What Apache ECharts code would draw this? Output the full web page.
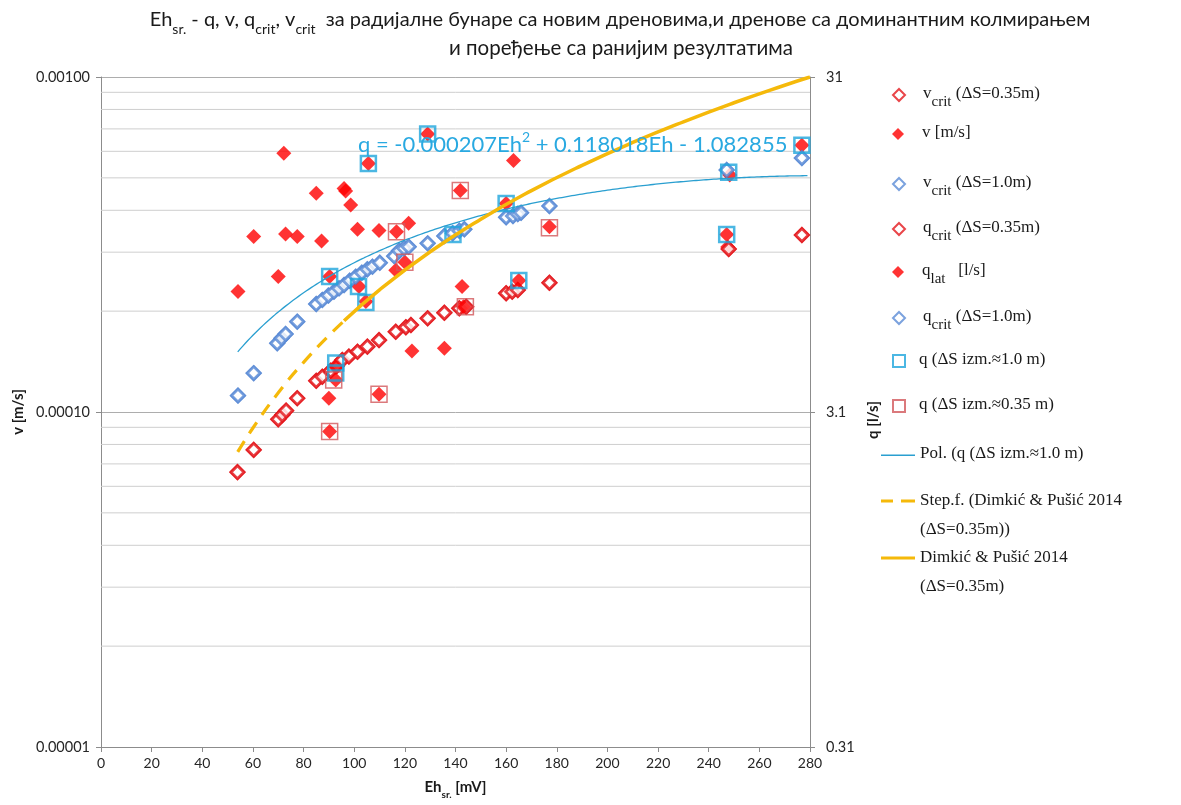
<!DOCTYPE html>
<html>
<head>
<meta charset="utf-8">
<script src="https://cdn.jsdelivr.net/npm/echarts@6/dist/echarts.min.js"></script>
<style>
  html, body { margin: 0; padding: 0; background: #fff; }
  #chart { width: 1181px; height: 805px; }
</style>
</head>
<body>
<div id="chart"></div>
<script>
// ---- Eh (mV) vs. velocities (m/s, left axis) and discharges (l/s, right axis) ----

// critical velocity / discharge for ΔS = 0.35 m
const ehCrit035 = [53.9, 60.3, 70.0, 71.6, 73.1, 77.5, 85.0, 87.4, 90.7, 93.1, 95.3, 97.9, 101.3, 105.2, 109.8, 116.4, 120.4, 122.4, 129.0, 135.6, 141.5, 144.2, 160.0, 162.4, 164.6, 177.1, 247.9, 276.8];
const vCrit035 = [6.62e-5, 7.70e-5, 9.51e-5, 9.80e-5, 1.009e-4, 1.099e-4, 1.240e-4, 1.275e-4, 1.328e-4, 1.372e-4, 1.430e-4, 1.463e-4, 1.514e-4, 1.567e-4, 1.640e-4, 1.737e-4, 1.790e-4, 1.818e-4, 1.904e-4, 1.979e-4, 2.040e-4, 2.062e-4, 2.261e-4, 2.286e-4, 2.313e-4, 2.432e-4, 3.066e-4, 3.376e-4];
const qCrit035 = [2.05, 2.39, 2.95, 3.04, 3.13, 3.41, 3.84, 3.95, 4.12, 4.25, 4.43, 4.54, 4.69, 4.86, 5.08, 5.38, 5.55, 5.64, 5.90, 6.13, 6.32, 6.39, 7.01, 7.09, 7.17, 7.54, 9.50, 10.47];

// critical velocity / discharge for ΔS = 1.0 m
const ehCrit10 = [54.1, 60.3, 69.6, 71.3, 72.9, 77.5, 85.0, 87.4, 89.8, 92.0, 94.0, 96.0, 98.2, 100.6, 103.0, 105.2, 107.2, 110.1, 115.8, 117.7, 119.7, 121.5, 129.0, 135.6, 138.9, 141.5, 143.5, 160.0, 162.7, 164.6, 165.9, 177.1, 247.1, 276.8];
const vCrit10 = [1.119e-4, 1.305e-4, 1.603e-4, 1.660e-4, 1.710e-4, 1.860e-4, 2.100e-4, 2.160e-4, 2.225e-4, 2.286e-4, 2.340e-4, 2.393e-4, 2.466e-4, 2.534e-4, 2.604e-4, 2.667e-4, 2.715e-4, 2.790e-4, 2.920e-4, 3.030e-4, 3.080e-4, 3.113e-4, 3.187e-4, 3.352e-4, 3.415e-4, 3.477e-4, 3.510e-4, 3.813e-4, 3.847e-4, 3.900e-4, 3.935e-4, 4.120e-4, 5.277e-4, 5.730e-4];
const qCrit10 = [3.47, 4.05, 4.97, 5.15, 5.30, 5.77, 6.51, 6.70, 6.90, 7.09, 7.25, 7.42, 7.64, 7.86, 8.07, 8.27, 8.42, 8.65, 9.05, 9.39, 9.55, 9.65, 9.88, 10.39, 10.59, 10.78, 10.88, 11.82, 11.93, 12.09, 12.20, 12.77, 16.36, 17.76];

// measured velocity v [m/s]
const ehV = [54.1, 60.3, 70.0, 72.2, 72.9, 77.5, 85.0, 87.1, 90.0, 96.0, 96.6, 98.6, 101.3, 109.8, 116.4, 121.5, 122.8, 135.6, 142.6, 162.9, 247.5];
const vMeas = [2.29e-4, 3.34e-4, 2.54e-4, 5.92e-4, 3.40e-4, 3.34e-4, 4.50e-4, 3.24e-4, 1.10e-4, 4.65e-4, 4.57e-4, 4.15e-4, 3.51e-4, 3.48e-4, 2.65e-4, 3.66e-4, 1.52e-4, 1.55e-4, 2.37e-4, 5.63e-4, 3.11e-4];

// lateral discharge q_lat [l/s]
const ehQLat = [90.3, 90.3, 92.7, 92.7, 101.9, 104.6, 105.6, 109.8, 116.7, 120.0, 129.0, 141.9, 143.1, 160.0, 165.0, 177.1, 247.1, 248.3, 276.8];
const qLat = [7.87, 2.71, 4.22, 3.86, 7.35, 6.63, 17.1, 3.50, 10.7, 8.68, 20.96, 14.2, 6.39, 13.0, 7.66, 11.07, 10.5, 15.8, 19.4];

// measured q for ΔS ≈ 1.0 m
const ehQ10 = [90.3, 92.7, 92.7, 101.7, 104.6, 105.6, 129.0, 139.0, 160.0, 165.0, 247.1, 247.9, 276.8];
const q10 = [7.87, 4.34, 4.05, 7.35, 6.58, 17.1, 20.96, 10.5, 13.0, 7.66, 10.5, 16.1, 19.4];

// measured q for ΔS ≈ 0.35 m
const ehQ035 = [90.3, 91.9, 109.8, 116.7, 120.0, 141.9, 143.9, 177.1];
const q035 = [2.71, 3.86, 3.50, 10.7, 8.68, 14.2, 6.39, 11.0];

// polynomial trend of q (ΔS ≈ 1.0 m): q = a·Eh² + b·Eh + c
const polyCoef = [-0.000207, 0.118018, -1.082855];
const polyRange = [54, 279];

// Dimkić & Pušić 2014 (ΔS = 0.35 m): power trend segment and curve
const ehDpStep = [54, 60, 70, 80, 90, 96];
const vDpStep = [7.6e-5, 8.96e-5, 1.141e-4, 1.407e-4, 1.691e-4, 1.871e-4];
const ehDp = [96, 110, 130, 150, 170, 190, 210, 230, 250, 270, 280];
const vDp = [1.871e-4, 2.316e-4, 3.008e-4, 3.764e-4, 4.579e-4, 5.450e-4, 6.376e-4, 7.351e-4, 8.377e-4, 9.45e-4, 1.0e-3];

// log gridlines between the decades
const minorGrid = [2e-5, 3e-5, 4e-5, 5e-5, 6e-5, 7e-5, 8e-5, 9e-5, 2e-4, 3e-4, 4e-4, 5e-4, 6e-4, 7e-4, 8e-4, 9e-4];

// axis ranges and tick labels
const xTicks = { min: 0, max: 280, interval: 20 };
const vAxis = { min: 1e-5, max: 1e-3 };
const qAxis = { min: 0.31, max: 31 };
const qTickLabels = [0.31, 3.1, 31];

const zip = (xs, ys) => xs.map((x, i) => [x, ys[i]]);

const trendPts = [];
for (let eh = polyRange[0]; eh <= polyRange[1]; eh += 1) {
  trendPts.push([eh, polyCoef[0] * eh * eh + polyCoef[1] * eh + polyCoef[2]]);
}

// each gridline as its own segment across the x range, separated by gaps
const gridPts = [];
minorGrid.forEach(v => {
  gridPts.push([xTicks.min, v], [xTicks.max, v], '-');
});

const RED = '#ff0000';
const RED_EDGE = '#e3161c';
const BLUE = '#5a8bd6';
const CYAN = '#1ea5dc';
const TREND = '#2a9fd0';
const SQ_RED = '#d2585b';
const GOLD = '#f5b90a';
const CALIBRI = 'Lato, "Liberation Sans", sans-serif';
const SERIF = '"Liberation Serif", "DejaVu Serif", serif';

const legendRich = {
  b: { fontFamily: SERIF, fontSize: 17, lineHeight: 20, verticalAlign: 'top', color: '#1a1a1a' },
  s: { fontFamily: SERIF, fontSize: 15, lineHeight: 14, padding: [10, 0, 0, 0], verticalAlign: 'top', color: '#1a1a1a' },
  m: { fontFamily: SERIF, fontSize: 17, lineHeight: 29, color: '#1a1a1a' }
};

const names = {
  vc035: 'v crit (ΔS=0.35m)',
  v: 'v [m/s]',
  vc10: 'v crit (ΔS=1.0m)',
  qc035: 'q crit (ΔS=0.35m)',
  qlat: 'q lat [l/s]',
  qc10: 'q crit (ΔS=1.0m)',
  q10: 'q (ΔS izm.≈1.0 m)',
  q035: 'q (ΔS izm.≈0.35 m)',
  pol: 'Pol. (q (ΔS izm.≈1.0 m)',
  step: 'Step.f. (Dimkić & Pušić 2014 (ΔS=0.35m))',
  dp: 'Dimkić & Pušić 2014 (ΔS=0.35m)'
};
const legendLabel = {};
legendLabel[names.vc035] = '{b|v}{s|crit}{b| (ΔS=0.35m)}';
legendLabel[names.v] = '{b|v [m/s]}';
legendLabel[names.vc10] = '{b|v}{s|crit}{b| (ΔS=1.0m)}';
legendLabel[names.qc035] = '{b|q}{s|crit}{b| (ΔS=0.35m)}';
legendLabel[names.qlat] = '{b|q}{s|lat}{b|   [l/s]}';
legendLabel[names.qc10] = '{b|q}{s|crit}{b| (ΔS=1.0m)}';
legendLabel[names.q10] = '{b|q (ΔS izm.≈1.0 m)}';
legendLabel[names.q035] = '{b|q (ΔS izm.≈0.35 m)}';
legendLabel[names.pol] = '{b|Pol. (q (ΔS izm.≈1.0 m)}';
legendLabel[names.step] = '{m|Step.f. (Dimkić & Pušić 2014}\n{m|(ΔS=0.35m))}';
legendLabel[names.dp] = '{m|Dimkić & Pušić 2014}\n{m|(ΔS=0.35m)}';

// line-style legend icons
const ICON_THIN = 'path://M0,0H34V1.5H0Z';
const ICON_SOLID = 'path://M0,0H34V3H0Z';
const ICON_DASH = 'path://M0,0H12V3H0Z M20,0H34V3H20Z';

// one legend block per entry, stacked down the right side
const legendRows = [
  { name: names.vc035, top: 91, kind: 'mark' },
  { name: names.v, top: 130, kind: 'mark' },
  { name: names.vc10, top: 180, kind: 'mark' },
  { name: names.qc035, top: 225, kind: 'mark' },
  { name: names.qlat, top: 268, kind: 'mark' },
  { name: names.qc10, top: 314, kind: 'mark' },
  { name: names.q10, top: 357, kind: 'square' },
  { name: names.q035, top: 402, kind: 'square' },
  { name: names.pol, top: 446, kind: 'line', icon: ICON_THIN, color: TREND, h: 1.5 },
  { name: names.step, top: 494, kind: 'line2', icon: ICON_DASH, color: GOLD, h: 3 },
  { name: names.dp, top: 551, kind: 'line2', icon: ICON_SOLID, color: GOLD, h: 3 }
];
const legends = legendRows.map(r => {
  const isLine = !!r.icon;
  const w = isLine ? 34 : 12;
  const h = isLine ? r.h : 12;
  const item = isLine ? { name: r.name, icon: r.icon, itemStyle: { color: r.color, borderWidth: 0 } } : r.name;
  return {
    orient: 'vertical',
    left: isLine ? 881 : 892,
    top: r.top - h / 2,
    padding: 0,
    itemWidth: w,
    itemHeight: h,
    selectedMode: false,
    data: [item],
    formatter: n => legendLabel[n],
    textStyle: {
      rich: legendRich,
      padding: r.kind === 'line2' ? [29, 0, 0, 0] : [0, 0, 0, isLine ? 0 : (r.kind === 'square' ? 9 : 13)]
    }
  };
});

const hollow = (color) => ({ color: '#ffffff', borderColor: color, borderWidth: 2.8 });

const option = {
  animation: false,
  backgroundColor: '#ffffff',
  graphic: [
    {
      type: 'text', x: 620, y: 21, z: 10,
      style: {
        text: '{t|Eh}{u|sr.}{t| - q, v, q}{u|crit}{t|, v}{u|crit}{t|  за радијалне бунаре са новим дреновима,и дренове са доминантним колмирањем}',
        align: 'center', verticalAlign: 'middle',
        rich: {
          t: { fontFamily: CALIBRI, fontSize: 20, lineHeight: 22, verticalAlign: 'top', fill: '#1a1a1a' },
          u: { fontFamily: CALIBRI, fontSize: 14, lineHeight: 14, padding: [12, 0, 0, 0], verticalAlign: 'top', fill: '#1a1a1a' }
        }
      }
    },
    {
      type: 'text', x: 621, y: 48, z: 10,
      style: {
        text: 'и поређење са ранијим резултатима',
        align: 'center', verticalAlign: 'middle',
        font: '20.5px ' + CALIBRI, fill: '#1a1a1a'
      }
    },
    {
      type: 'text', x: 358, y: 143, z: 20,
      style: {
        text: '{e|q = -0.000207Eh}{p|2}{e| + 0.118018Eh - 1.082855}',
        align: 'left', verticalAlign: 'middle',
        rich: {
          e: { fontFamily: CALIBRI, fontSize: 22, lineHeight: 26, verticalAlign: 'bottom', fill: '#29a9e1' },
          p: { fontFamily: CALIBRI, fontSize: 14, lineHeight: 15, verticalAlign: 'top', fill: '#29a9e1' }
        }
      }
    }
  ],
  legend: legends,
  grid: { left: 101, right: 371, top: 77, bottom: 58, containLabel: false },
  xAxis: {
    type: 'value',
    min: xTicks.min, max: xTicks.max, interval: xTicks.interval,
    name: '{b|Eh}{s|sr.}{b| [mV]}',
    nameLocation: 'middle', nameGap: 33,
    nameTextStyle: {
      rich: {
        b: { fontFamily: CALIBRI, fontSize: 15, fontWeight: 'bold', lineHeight: 18, verticalAlign: 'top', color: '#1a1a1a' },
        s: { fontFamily: CALIBRI, fontSize: 10, fontWeight: 'bold', lineHeight: 10, padding: [10, 0, 0, 0], verticalAlign: 'top', color: '#1a1a1a' }
      }
    },
    axisLine: { lineStyle: { color: '#8c8c8c', width: 1 } },
    axisTick: { show: true, length: 5, lineStyle: { color: '#8c8c8c' } },
    axisLabel: { fontFamily: CALIBRI, fontSize: 14, color: '#262626', margin: 9 },
    splitLine: { show: false }
  },
  yAxis: [
    {
      type: 'log', logBase: 10,
      min: vAxis.min, max: vAxis.max,
      name: 'v [m/s]',
      nameLocation: 'middle', nameRotate: 90, nameGap: 74,
      nameTextStyle: { fontFamily: CALIBRI, fontSize: 15, fontWeight: 'bold', color: '#1a1a1a' },
      axisLine: { show: true, lineStyle: { color: '#8c8c8c', width: 1 } },
      axisTick: { show: true, length: 5, lineStyle: { color: '#8c8c8c' } },
      axisLabel: { fontFamily: CALIBRI, fontSize: 14.5, color: '#262626', margin: 11, formatter: v => v.toFixed(5) },
      splitLine: { show: true, lineStyle: { color: '#adadad', width: 1 } }
    },
    {
      type: 'log', logBase: 10,
      min: qAxis.min, max: qAxis.max,
      position: 'right',
      name: 'q [l/s]',
      nameLocation: 'middle', nameRotate: 90, nameGap: 46,
      nameTextStyle: { fontFamily: CALIBRI, fontSize: 15, fontWeight: 'bold', color: '#1a1a1a', padding: [0, 16, 0, 0] },
      axisLine: { show: true, lineStyle: { color: '#8c8c8c', width: 1 } },
      axisTick: { show: true, length: 5, customValues: qTickLabels, lineStyle: { color: '#8c8c8c' } },
      axisLabel: { fontFamily: CALIBRI, fontSize: 14.5, color: '#262626', margin: 16, customValues: qTickLabels, formatter: v => String(+Number(v).toPrecision(2)) },
      splitLine: { show: false }
    }
  ],
  series: [
    {
      name: 'gridlines', type: 'line', yAxisIndex: 0, silent: true, z: 1,
      showSymbol: false, symbol: 'none', connectNulls: false,
      lineStyle: { color: '#cfcfcf', width: 1 },
      emphasis: { disabled: true },
      data: gridPts
    },
    {
      name: names.vc035, type: 'scatter', yAxisIndex: 0, symbol: 'diamond', symbolSize: 13,
      itemStyle: hollow(RED_EDGE), data: zip(ehCrit035, vCrit035)
    },
    {
      name: names.v, type: 'scatter', yAxisIndex: 0, symbol: 'diamond', symbolSize: 15,
      itemStyle: { color: RED }, data: zip(ehV, vMeas)
    },
    {
      name: names.vc10, type: 'scatter', yAxisIndex: 0, symbol: 'diamond', symbolSize: 13,
      itemStyle: hollow(BLUE), data: zip(ehCrit10, vCrit10)
    },
    {
      name: names.qc035, type: 'scatter', yAxisIndex: 1, symbol: 'diamond', symbolSize: 13,
      itemStyle: hollow(RED_EDGE), data: zip(ehCrit035, qCrit035)
    },
    {
      name: names.qlat, type: 'scatter', yAxisIndex: 1, symbol: 'diamond', symbolSize: 15,
      itemStyle: { color: RED }, data: zip(ehQLat, qLat)
    },
    {
      name: names.qc10, type: 'scatter', yAxisIndex: 1, symbol: 'diamond', symbolSize: 13,
      itemStyle: hollow(BLUE), data: zip(ehCrit10, qCrit10)
    },
    {
      name: names.q10, type: 'scatter', yAxisIndex: 1, symbol: 'rect', symbolSize: 15,
      itemStyle: { color: 'rgba(255,255,255,0)', borderColor: CYAN, borderWidth: 2.5 },
      data: zip(ehQ10, q10)
    },
    {
      name: names.q035, type: 'scatter', yAxisIndex: 1, symbol: 'rect', symbolSize: 16,
      itemStyle: { color: 'rgba(255,255,255,0)', borderColor: SQ_RED, borderWidth: 1.5 },
      data: zip(ehQ035, q035)
    },
    {
      name: names.pol, type: 'line', yAxisIndex: 1, showSymbol: false, symbol: 'none',
      itemStyle: { color: TREND },
      lineStyle: { color: TREND, width: 1.3 }, data: trendPts
    },
    {
      name: names.step, type: 'line', yAxisIndex: 0, showSymbol: false, symbol: 'none', smooth: true,
      itemStyle: { color: GOLD },
      lineStyle: { color: GOLD, width: 3.2, type: [13, 9] }, data: zip(ehDpStep, vDpStep)
    },
    {
      name: names.dp, type: 'line', yAxisIndex: 0, showSymbol: false, symbol: 'none', smooth: true,
      itemStyle: { color: GOLD },
      lineStyle: { color: GOLD, width: 3.5 }, data: zip(ehDp, vDp)
    }
  ]
};

const chart = echarts.init(document.getElementById('chart'), null, { renderer: 'canvas' });
chart.setOption(option);
</script>
</body>
</html>
